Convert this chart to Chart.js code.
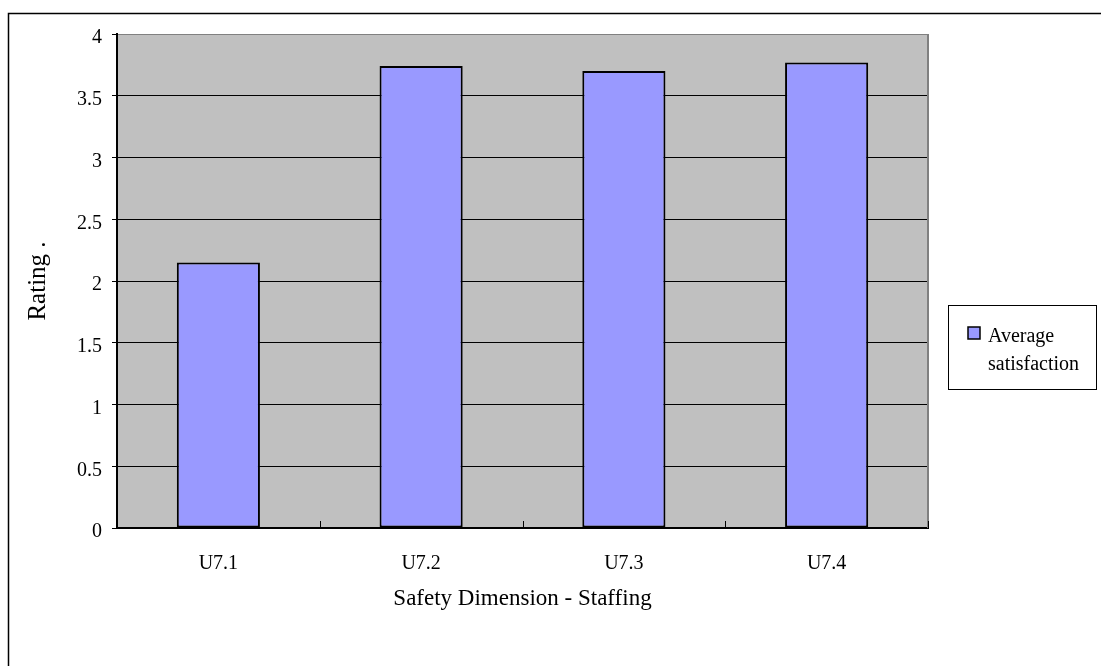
<!DOCTYPE html>
<html>
<head>
<meta charset="utf-8">
<script src="https://cdn.jsdelivr.net/npm/chart.js@4/dist/chart.umd.min.js"></script>
<style>
  html, body { margin: 0; padding: 0; background: #fff; }
  #wrap { width: 1101px; height: 666px; position: relative; }
  canvas { display: block; }
</style>
</head>
<body>
<div id="wrap"><canvas id="c" width="1101" height="666"></canvas></div>
<script>
// Chart data
const categories = ['U7.1', 'U7.2', 'U7.3', 'U7.4'];
const satisfaction = [2.15, 3.74, 3.70, 3.77];
const seriesName = 'Average satisfaction';
const yTickLabels = ['0', '0.5', '1', '1.5', '2', '2.5', '3', '3.5', '4'];
const yTitle = 'Rating .';
const xTitle = 'Safety Dimension - Staffing';

const SERIF = '"Liberation Serif", "Times New Roman", Times, serif';
const BAR_FILL = '#9999FF';
const PLOT_FILL = '#C0C0C0';

// Page frame + grey plot background, drawn before the scales
const backdrop = {
  id: 'backdrop',
  beforeDraw(chart) {
    const { ctx, chartArea: a } = chart;
    ctx.save();
    ctx.fillStyle = '#fff';
    ctx.fillRect(0, 0, chart.width, chart.height);
    ctx.fillStyle = PLOT_FILL;
    ctx.fillRect(a.left, a.top, a.right - a.left, a.bottom - a.top);
    ctx.strokeStyle = '#000';
    ctx.lineWidth = 1.5;
    ctx.strokeRect(8.5, 13.5, 2000, 2000);
    ctx.restore();
  }
};

// Right border of the plot, category tick marks and the boxed legend
const extras = {
  id: 'extras',
  afterDatasetsDraw(chart) {
    const { ctx, chartArea: a, scales: { x } } = chart;
    ctx.save();
    ctx.strokeStyle = '#808080';
    ctx.lineWidth = 2;
    ctx.beginPath();
    ctx.moveTo(a.right, a.top);
    ctx.lineTo(a.right, a.bottom);
    ctx.stroke();

    // small marks between categories, pointing into the plot
    ctx.strokeStyle = '#000';
    ctx.lineWidth = 1;
    const n = categories.length;
    const marks = [];
    for (let i = 1; i < n; i++) {
      marks.push((x.getPixelForValue(i - 1) + x.getPixelForValue(i)) / 2);
    }
    marks.push(x.getPixelForValue(n - 1) + (x.getPixelForValue(n - 1) - x.getPixelForValue(n - 2)) / 2);
    ctx.beginPath();
    marks.forEach(px => {
      const xx = Math.round(px) + 0.5;
      ctx.moveTo(xx, a.bottom);
      ctx.lineTo(xx, a.bottom - 7);
    });
    ctx.stroke();
    ctx.restore();
  },
  afterDraw(chart) {
    const { ctx } = chart;
    ctx.save();
    // legend box
    ctx.fillStyle = '#fff';
    ctx.fillRect(948, 305, 149, 85);
    ctx.strokeStyle = '#000';
    ctx.lineWidth = 1;
    ctx.strokeRect(948.5, 305.5, 148, 84);
    // swatch
    ctx.fillStyle = BAR_FILL;
    ctx.fillRect(968, 327, 12, 12);
    ctx.lineWidth = 1.5;
    ctx.strokeRect(968, 327, 12, 12);
    // label, wrapped over two lines
    ctx.fillStyle = '#000';
    ctx.font = '20px ' + SERIF;
    ctx.textAlign = 'left';
    ctx.textBaseline = 'middle';
    const words = seriesName.split(' ');
    ctx.fillText(words[0], 988, 337);
    ctx.fillText(words.slice(1).join(' '), 988, 365);
    ctx.restore();
  }
};

new Chart(document.getElementById('c'), {
  type: 'bar',
  data: {
    labels: categories,
    datasets: [{
      label: seriesName,
      data: satisfaction,
      backgroundColor: BAR_FILL,
      borderColor: '#000',
      borderWidth: 2,
      borderSkipped: false,
      barPercentage: 0.41,
      categoryPercentage: 1.0
    }]
  },
  options: {
    responsive: false,
    devicePixelRatio: 1,
    animation: false,
    layout: { padding: { left: 0, top: 34, right: 173, bottom: 0 } },
    plugins: {
      legend: { display: false },
      tooltip: { enabled: false }
    },
    scales: {
      x: {
        type: 'category',
        offset: true,
        grid: { display: true, drawOnChartArea: false, drawTicks: false },
        border: { display: true, color: '#000', width: 2 },
        ticks: {
          color: '#000',
          font: { family: SERIF, size: 20 },
          padding: 24,
          maxRotation: 0
        },
        title: {
          display: true,
          text: xTitle,
          color: '#000',
          font: { family: SERIF, size: 23 },
          padding: { top: 0, bottom: 53 }
        },
        afterFit(s) { s.height = 138; }
      },
      y: {
        min: 0,
        max: 4,
        ticks: {
          stepSize: 0.5,
          color: '#000',
          font: { family: SERIF, size: 20 },
          padding: 10,
          labelOffset: 4,
          callback: (v, i) => yTickLabels[i]
        },
        grid: {
          color: ctx => (ctx.tick && ctx.tick.value === 4) ? '#808080' : '#000',
          lineWidth: 1,
          drawTicks: true,
          tickLength: 5,
          tickColor: '#000'
        },
        border: { display: true, color: '#000', width: 2 },
        title: {
          display: true,
          text: yTitle,
          color: '#000',
          font: { family: SERIF, size: 25 },
          padding: { top: 23, bottom: 0 }
        },
        afterFit(s) { s.width = 117; }
      }
    }
  },
  plugins: [backdrop, extras]
});
</script>
</body>
</html>
